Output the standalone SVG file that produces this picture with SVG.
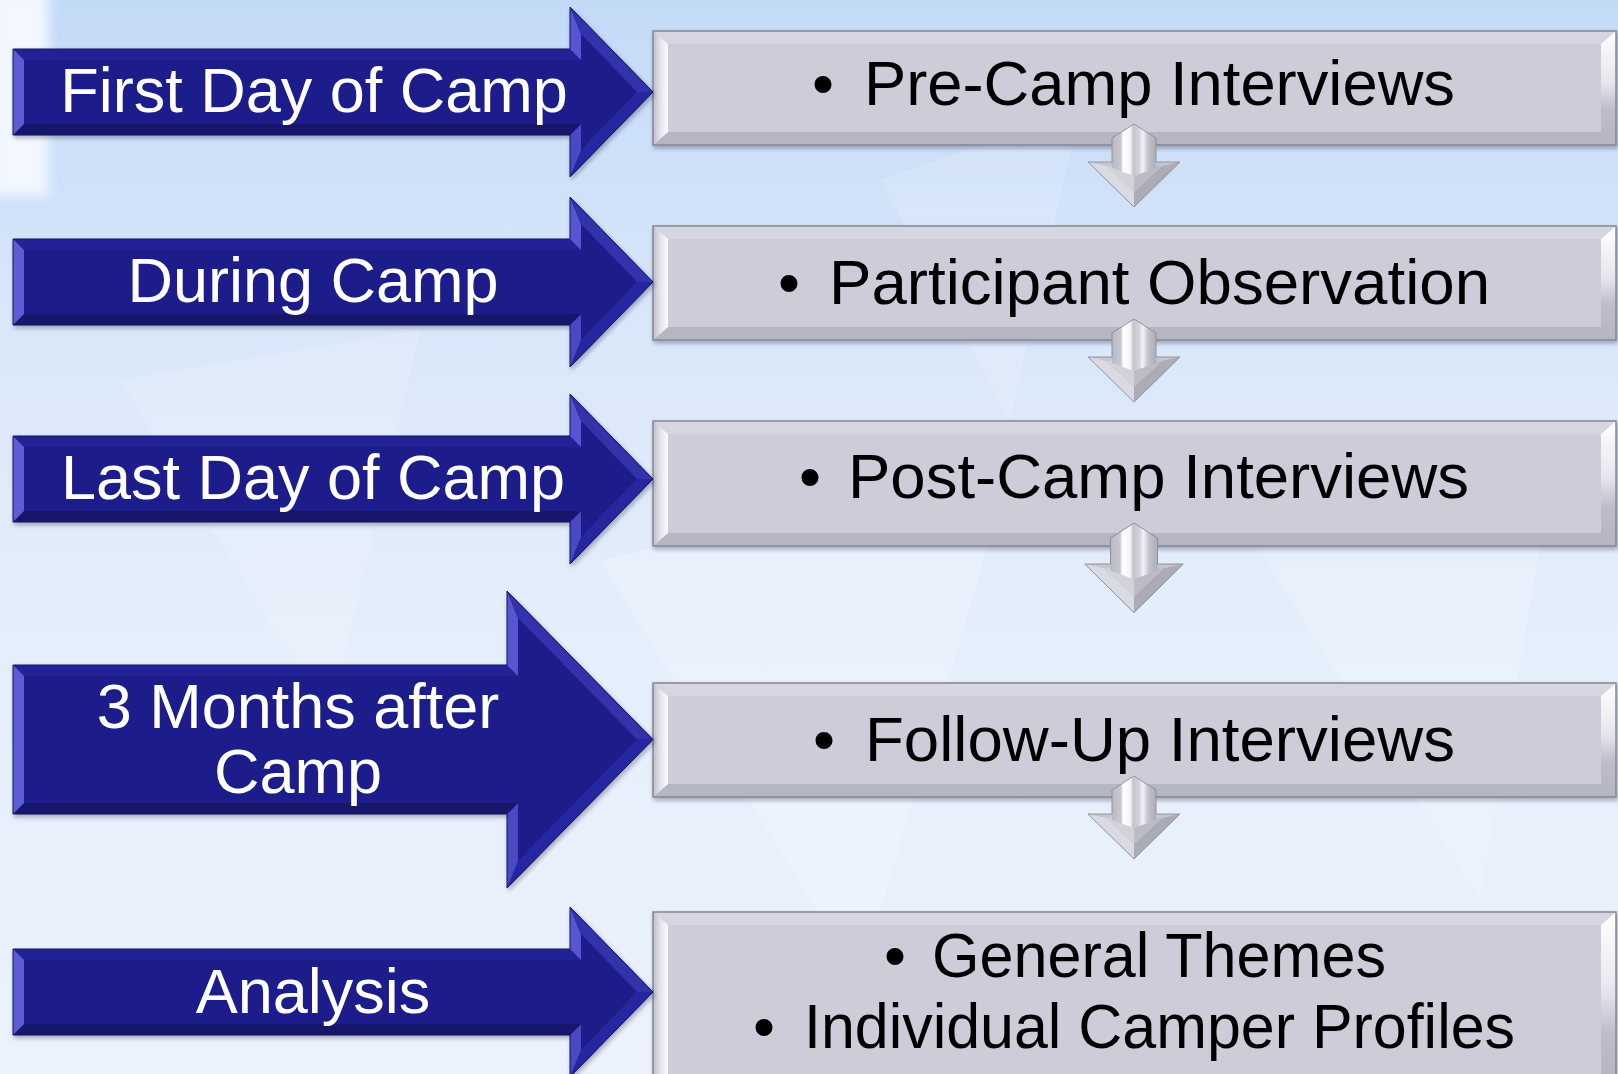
<svg xmlns="http://www.w3.org/2000/svg" xmlns:xlink="http://www.w3.org/1999/xlink" width="1618" height="1074" viewBox="0 0 1618 1074">
  <defs>
    <linearGradient id="bg" x1="0" y1="0" x2="0" y2="1">
      <stop offset="0" stop-color="#c3daf7"/>
      <stop offset="0.3" stop-color="#d9e7fa"/>
      <stop offset="0.6" stop-color="#e5eefb"/>
      <stop offset="1" stop-color="#ebf2fc"/>
    </linearGradient>
    <linearGradient id="boxLeft" x1="0" y1="0" x2="1" y2="0">
      <stop offset="0" stop-color="#bdbdc9"/>
      <stop offset="0.5" stop-color="#e4e4ec"/>
      <stop offset="1" stop-color="#fbfbfd"/>
    </linearGradient>
    <linearGradient id="boxRight" x1="0" y1="0" x2="0" y2="1">
      <stop offset="0" stop-color="#ffffff"/>
      <stop offset="0.45" stop-color="#e6e6ee"/>
      <stop offset="0.7" stop-color="#bcbcca"/>
      <stop offset="1" stop-color="#b4b4c2"/>
    </linearGradient>
    <linearGradient id="stemShade" x1="-22" y1="0" x2="22" y2="0" gradientUnits="userSpaceOnUse">
      <stop offset="0" stop-color="#b9b9c3"/>
      <stop offset="0.2" stop-color="#c8c8d0"/>
      <stop offset="0.26" stop-color="#ffffff"/>
      <stop offset="0.42" stop-color="#f4f4f8"/>
      <stop offset="0.48" stop-color="#c4c4cc"/>
      <stop offset="0.62" stop-color="#d4d4dc"/>
      <stop offset="0.7" stop-color="#f2f2f6"/>
      <stop offset="0.82" stop-color="#c2c2cc"/>
      <stop offset="1" stop-color="#aeaeb8"/>
    </linearGradient>
    <filter id="shadow" x="-5%" y="-10%" width="110%" height="125%">
      <feDropShadow dx="1.5" dy="2.5" stdDeviation="2" flood-color="#1a2340" flood-opacity="0.35"/>
    </filter>
    <filter id="soft" x="-20%" y="-20%" width="140%" height="140%">
      <feGaussianBlur stdDeviation="6"/>
    </filter>

    <!-- standard blue timeline arrow, centred on y = 0 -->
    <g id="blueArrow">
      <polygon class="aBase" points="13,-43 570,-43 570,-85 653,0 570,85 570,43 13,43"/>
      <polygon fill="#222296" points="13,-43 570,-43 581,-32 24,-32"/>
      <polygon fill="#5656d2" points="570,-43 570,-85 581,-58 581,-32"/>
      <polygon fill="#3030aa" points="570,-85 653,0 637,0 581,-58"/>
      <polygon fill="#2828a0" points="653,0 570,85 581,58 637,0"/>
      <polygon fill="#4848c4" points="570,85 570,43 581,32 581,58"/>
      <polygon fill="#16166c" points="570,43 13,43 24,32 581,32"/>
      <polygon fill="#5c5cd4" points="13,43 13,-43 24,-32 24,32"/>
      <polygon class="aEdge" points="13,-43 570,-43 570,-85 653,0 570,85 570,43 13,43"/>
    </g>

    <!-- grey down connector, peak at y = 0 -->
    <g id="downArrow">
      <polygon fill="#c6c6ce" points="-46,38 46,38 0,83"/>
      <polygon fill="#dadae2" points="-46,38 0,83 0,68 -28,42"/>
      <polygon fill="#acacb7" points="46,38 0,83 0,68 28,42"/>
      <polygon fill="#d2d2da" points="-28,42 0,42 0,68"/>
      <polygon fill="#bcbcc6" points="0,42 28,42 0,68"/>
      <polygon fill="url(#stemShade)" points="-22,14 0,0 22,14 22,44 0,52 -22,44"/>
      <polygon fill="none" stroke="#8c8c98" stroke-width="0.9" stroke-linejoin="round" points="-22,14 0,0 22,14 22,38 46,38 0,83 -46,38 -22,38"/>
    </g>
  </defs>

  <style>
    .aBase { fill: #1e1e8a; }
    .aEdge { fill: none; stroke: #12125e; stroke-width: 1; stroke-linejoin: miter; }
    .boxBase { fill: #cdcdd9; }
    .boxTop { fill: #d6d6e0; }
    .boxBottom { fill: #b5b5c3; }
    .boxLeft { fill: url(#boxLeft); }
    .boxRight { fill: url(#boxRight); }
    .boxEdge { fill: none; stroke: #878793; stroke-width: 1.5; }
    .lbl { font-family: "Liberation Sans", Arial, sans-serif; font-size: 63px; fill: #ffffff; text-anchor: middle; }
    .item { font-family: "Liberation Sans", Arial, sans-serif; font-size: 63px; fill: #000000; }
  </style>

  <!-- backdrop -->
  <g id="backdrop">
    <rect x="0" y="0" width="1618" height="1074" fill="url(#bg)"/>
    <rect x="-10" y="-10" width="58" height="205" fill="#f3f8fe" filter="url(#soft)"/>
    <polygon points="600,560 1010,470 860,980" fill="#ffffff" opacity="0.22"/>
    <polygon points="120,380 420,330 330,720" fill="#ffffff" opacity="0.15"/>
    <polygon points="1240,520 1560,430 1480,900" fill="#ffffff" opacity="0.18"/>
    <polygon points="880,180 1080,110 1010,420" fill="#ffffff" opacity="0.14"/>
  </g>

  <!-- grey activity boxes -->
  <g id="box-precamp" filter="url(#shadow)">
    <rect class="boxBase" x="653" y="31" width="963" height="114"/>
    <polygon class="boxTop" points="653,31 1616,31 1601,44 668,44"/>
    <polygon class="boxBottom" points="653,145 1616,145 1601,132 668,132"/>
    <polygon class="boxLeft" points="653,31 668,44 668,132 653,145"/>
    <polygon class="boxRight" points="1616,31 1616,145 1601,132 1601,44"/>
    <rect class="boxEdge" x="653" y="31" width="963" height="114"/>
    <text class="item" x="812" y="105">•</text>
    <text class="item" x="864" y="105" textLength="591" lengthAdjust="spacingAndGlyphs">Pre-Camp Interviews</text>
  </g>

  <g id="box-observation" filter="url(#shadow)">
    <rect class="boxBase" x="653" y="226" width="963" height="114"/>
    <polygon class="boxTop" points="653,226 1616,226 1601,239 668,239"/>
    <polygon class="boxBottom" points="653,340 1616,340 1601,327 668,327"/>
    <polygon class="boxLeft" points="653,226 668,239 668,327 653,340"/>
    <polygon class="boxRight" points="1616,226 1616,340 1601,327 1601,239"/>
    <rect class="boxEdge" x="653" y="226" width="963" height="114"/>
    <text class="item" x="778" y="304">•</text>
    <text class="item" x="829" y="304" textLength="661" lengthAdjust="spacingAndGlyphs">Participant Observation</text>
  </g>

  <g id="box-postcamp" filter="url(#shadow)">
    <rect class="boxBase" x="653" y="421" width="963" height="125"/>
    <polygon class="boxTop" points="653,421 1616,421 1601,434 668,434"/>
    <polygon class="boxBottom" points="653,546 1616,546 1601,533 668,533"/>
    <polygon class="boxLeft" points="653,421 668,434 668,533 653,546"/>
    <polygon class="boxRight" points="1616,421 1616,546 1601,533 1601,434"/>
    <rect class="boxEdge" x="653" y="421" width="963" height="125"/>
    <text class="item" x="799" y="498">•</text>
    <text class="item" x="848" y="498" textLength="621" lengthAdjust="spacingAndGlyphs">Post-Camp Interviews</text>
  </g>

  <g id="box-followup" filter="url(#shadow)">
    <rect class="boxBase" x="653" y="683" width="963" height="114"/>
    <polygon class="boxTop" points="653,683 1616,683 1601,696 668,696"/>
    <polygon class="boxBottom" points="653,797 1616,797 1601,784 668,784"/>
    <polygon class="boxLeft" points="653,683 668,696 668,784 653,797"/>
    <polygon class="boxRight" points="1616,683 1616,797 1601,784 1601,696"/>
    <rect class="boxEdge" x="653" y="683" width="963" height="114"/>
    <text class="item" x="813" y="761">•</text>
    <text class="item" x="865" y="761" textLength="590" lengthAdjust="spacingAndGlyphs">Follow-Up Interviews</text>
  </g>

  <g id="box-analysis" filter="url(#shadow)">
    <rect class="boxBase" x="653" y="912" width="963" height="175"/>
    <polygon class="boxTop" points="653,912 1616,912 1601,925 668,925"/>
    <polygon class="boxLeft" points="653,912 668,925 668,1087 653,1087"/>
    <polygon class="boxRight" points="1616,912 1616,1087 1601,1087 1601,925"/>
    <rect class="boxEdge" x="653" y="912" width="963" height="175"/>
    <text class="item" x="884" y="977">•</text>
    <text class="item" x="932" y="977" textLength="454" lengthAdjust="spacingAndGlyphs">General Themes</text>
    <text class="item" x="753" y="1048">•</text>
    <text class="item" x="804" y="1048" textLength="711" lengthAdjust="spacingAndGlyphs">Individual Camper Profiles</text>
  </g>

  <!-- blue timeline arrows -->
  <g id="stage-first-day" filter="url(#shadow)">
    <use xlink:href="#blueArrow" href="#blueArrow" transform="translate(0,92)"/>
    <text class="lbl" x="314" y="112">First Day of Camp</text>
  </g>

  <g id="stage-during" filter="url(#shadow)">
    <use xlink:href="#blueArrow" href="#blueArrow" transform="translate(0,282)"/>
    <text class="lbl" x="313" y="302">During Camp</text>
  </g>

  <g id="stage-last-day" filter="url(#shadow)">
    <use xlink:href="#blueArrow" href="#blueArrow" transform="translate(0,479)"/>
    <text class="lbl" x="313" y="499">Last Day of Camp</text>
  </g>

  <g id="stage-three-months" filter="url(#shadow)">
    <g transform="translate(0,739.5)">
      <polygon class="aBase" points="13,-74.5 507,-74.5 507,-148.5 653,0 507,148.5 507,74.5 13,74.5"/>
      <polygon fill="#222296" points="13,-74.5 507,-74.5 518,-63.5 24,-63.5"/>
      <polygon fill="#5656d2" points="507,-74.5 507,-148.5 518,-121.5 518,-63.5"/>
      <polygon fill="#3030aa" points="507,-148.5 653,0 637,0 518,-121.5"/>
      <polygon fill="#2828a0" points="653,0 507,148.5 518,121.5 637,0"/>
      <polygon fill="#4848c4" points="507,148.5 507,74.5 518,63.5 518,121.5"/>
      <polygon fill="#16166c" points="507,74.5 13,74.5 24,63.5 518,63.5"/>
      <polygon fill="#5c5cd4" points="13,74.5 13,-74.5 24,-63.5 24,63.5"/>
      <polygon class="aEdge" points="13,-74.5 507,-74.5 507,-148.5 653,0 507,148.5 507,74.5 13,74.5"/>
    </g>
    <text class="lbl" x="298" y="728">3 Months after</text>
    <text class="lbl" x="298" y="793">Camp</text>
  </g>

  <g id="stage-analysis" filter="url(#shadow)">
    <use xlink:href="#blueArrow" href="#blueArrow" transform="translate(0,992)"/>
    <text class="lbl" x="313" y="1013">Analysis</text>
  </g>

  <!-- down connectors between activity boxes -->
  <g id="connectors">
    <use xlink:href="#downArrow" href="#downArrow" transform="translate(1134,124)"/>
    <use xlink:href="#downArrow" href="#downArrow" transform="translate(1134,319)"/>
    <use xlink:href="#downArrow" href="#downArrow" transform="translate(1134,523) scale(1.07,1.08)"/>
    <use xlink:href="#downArrow" href="#downArrow" transform="translate(1134,776)"/>
  </g>
</svg>
